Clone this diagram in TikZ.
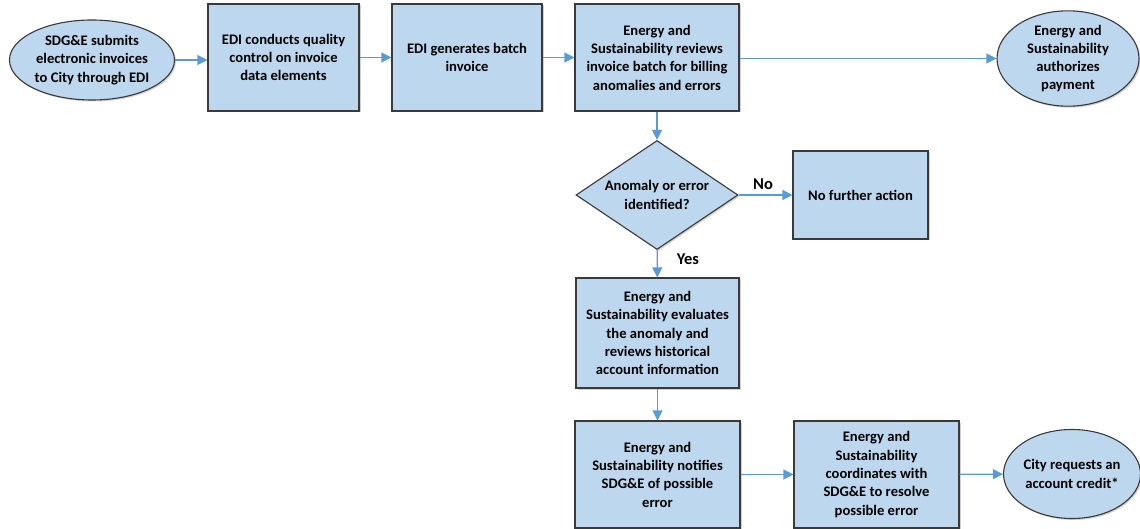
\documentclass[tikz,border=0pt]{standalone}
\usepackage{fontspec}
\setmainfont{Carlito}
\usetikzlibrary{shapes.geometric,arrows.meta,shadows}
\definecolor{boxfill}{HTML}{BDD7EE}
\definecolor{arrowblue}{HTML}{5B9BD5}
\definecolor{edge}{HTML}{3A3A3A}
\tikzset{
  base/.style={draw=edge, line width=1.1pt, fill=boxfill, inner sep=0pt, align=center,
    font=\fontsize{14.6}{18.3}\selectfont\bfseries,
    drop shadow={shadow xshift=1.5pt, shadow yshift=-1.5pt, opacity=0.18, fill=black}},
  procbox/.style={base, rectangle},
  term/.style={base, ellipse},
  decide/.style={base, diamond, aspect=1.49},
  flow/.style={draw=arrowblue, line width=1.2pt, -{Triangle[length=10pt,width=10pt]}},
  lbl/.style={font=\fontsize{16.5}{18}\selectfont\bfseries, inner sep=0pt}
}
\begin{document}
\begin{tikzpicture}[x=1pt,y=-1pt]
\useasboundingbox (0,0) rectangle (1140,529);
\node[term, minimum width=165pt, minimum height=80pt] (e1) at (92,60) {SDG\&E submits\\electronic invoices\\to City through EDI};
\node[procbox, minimum width=151pt, minimum height=107pt] (b1) at (283.5,57.5) {EDI conducts quality\\control on invoice\\data elements};
\node[procbox, minimum width=150pt, minimum height=107pt] (b2) at (467,57.5) {EDI generates batch\\invoice};
\node[procbox, minimum width=164pt, minimum height=107pt] (b3) at (657,57.5) {Energy and\\Sustainability reviews\\invoice batch for billing\\anomalies and errors};
\node[term, minimum width=142pt, minimum height=83pt] (e2) at (1068,58.5) {Energy and\\Sustainability\\authorizes\\payment};
\node[decide, minimum width=162pt, minimum height=109pt] (d) at (657,195) {Anomaly or error\\identified?};
\node[procbox, minimum width=135pt, minimum height=88pt] (bno) at (860.5,195) {No further action};
\node[procbox, minimum width=163pt, minimum height=110pt] (bev) at (657.5,333) {Energy and\\Sustainability evaluates\\the anomaly and\\reviews historical\\account information};
\node[procbox, minimum width=165pt, minimum height=107pt] (bnot) at (657.5,474.5) {Energy and\\Sustainability notifies\\SDG\&E of possible\\error};
\node[procbox, minimum width=165pt, minimum height=107pt] (bco) at (876.5,474.5) {Energy and\\Sustainability\\coordinates with\\SDG\&E to resolve\\possible error};
\node[term, minimum width=134pt, minimum height=89pt] (e3) at (1072,474) {City requests an\\account credit*};
\draw[flow] (e1.east) -- (b1.west |- e1.east);
\draw[flow] (b1) -- (b2);
\draw[flow] (b2) -- (b3);
\draw[flow] (b3.east |- e2.west) -- (e2.west);
\draw[flow] (b3) -- (d);
\draw[flow] (d) -- (bno);
\draw[flow] (d) -- (bev);
\draw[flow] (bev.south) -- (bnot.north -| bev.south);
\draw[flow] (bnot) -- (bco);
\draw[flow] (bco) -- (e3);
\node[lbl] (no) at (763,184) {No};
\node[lbl] (yes) at (688,259) {Yes};
\end{tikzpicture}
\end{document}
